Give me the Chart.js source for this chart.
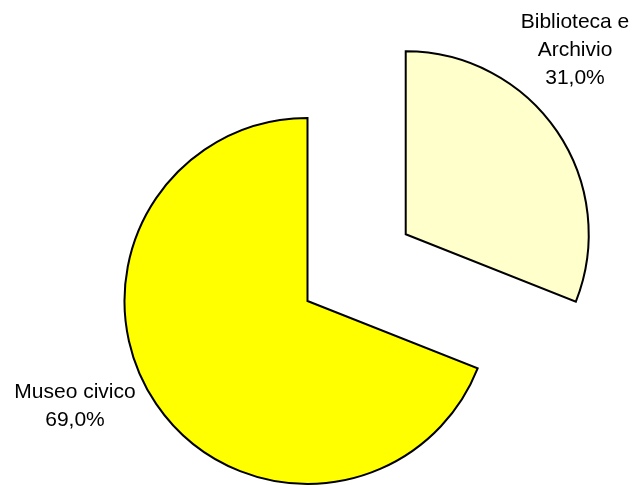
<!DOCTYPE html>
<html>
<head>
<meta charset="utf-8">
<script src="https://cdn.jsdelivr.net/npm/chart.js@4"></script>
<style>
  html, body { margin: 0; padding: 0; background: #ffffff; }
  #wrap { width: 637px; height: 485px; }
</style>
</head>
<body>
<div id="wrap"><canvas id="pieChart" width="637" height="485"></canvas></div>
<script>
const categories = ['Biblioteca e Archivio', 'Museo civico'];
const shares = [31.0, 69.0];
const sliceColors = ['#FFFFCC', '#FFFF00'];
const labelLines = [
    ['Biblioteca e', 'Archivio', '31,0%'],
    ['Museo civico', '69,0%']
];

// where each label block sits (centre of the text block)
const labelAnchors = [
    { x: 575, y: 50 },
    { x: 75, y: 406 }
];

// chart.js grows an exploded slice a little and trims its angle; undo that
// so the exploded slice keeps the same radius and sweep as the other one
const keepSliceShape = {
    id: 'keepSliceShape',
    afterDatasetsUpdate(chart) {
        const meta = chart.getDatasetMeta(0);
        const r = meta.controller.outerRadius;
        meta.data.forEach(arc => {
            const off = (arc.options.offset || 0) / 4;
            if (!off) return;
            const grow = off * (1 - Math.sin(Math.min(Math.PI, arc.circumference)));
            arc.outerRadius = r - grow;
            const trim = (grow / Math.PI) / r / 2;
            arc.startAngle -= trim;
            arc.endAngle += trim;
        });
    }
};

const sliceLabels = {
    id: 'sliceLabels',
    afterDatasetsDraw(chart) {
        const ctx = chart.ctx;
        const lineH = 28;
        ctx.save();
        ctx.fillStyle = '#000000';
        ctx.font = '21px "Liberation Sans", Arial, sans-serif';
        ctx.textAlign = 'center';
        ctx.textBaseline = 'middle';
        labelLines.forEach((lines, i) => {
            const a = labelAnchors[i];
            const top = a.y - (lines.length - 1) * lineH / 2;
            lines.forEach((txt, j) => ctx.fillText(txt, a.x, top + j * lineH));
        });
        ctx.restore();
    }
};

const ctx = document.getElementById('pieChart').getContext('2d');
new Chart(ctx, {
    type: 'pie',
    data: {
        labels: categories,
        datasets: [{
            data: shares,
            backgroundColor: sliceColors,
            borderColor: '#000000',
            borderWidth: 2,
            borderJoinStyle: 'miter',
            // chart.js moves the slice by a quarter of this value
            offset: [475, 0],
            hoverOffset: 0,
            clip: false
        }]
    },
    options: {
        responsive: false,
        animation: false,
        events: [],
        radius: 183,
        cutout: '0%',
        layout: { padding: { left: 0, right: 22, top: 117, bottom: 0 } },
        plugins: {
            legend: { display: false },
            tooltip: { enabled: false }
        }
    },
    plugins: [keepSliceShape, sliceLabels]
});
</script>
</body>
</html>
